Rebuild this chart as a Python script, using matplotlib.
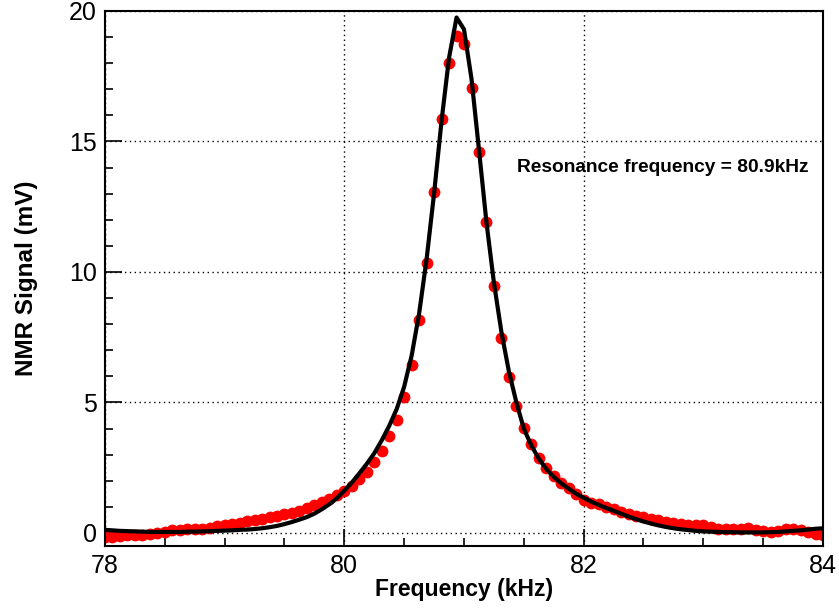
import matplotlib
matplotlib.use('Agg')
import matplotlib.pyplot as plt
from matplotlib.ticker import MultipleLocator

# sweep frequencies (kHz)
freq = [78.000, 78.063, 78.125, 78.188, 78.250, 78.313, 78.375, 78.438,
        78.500, 78.563, 78.625, 78.688, 78.750, 78.813, 78.875, 78.938,
        79.000, 79.063, 79.125, 79.188, 79.250, 79.313, 79.375, 79.438,
        79.500, 79.563, 79.625, 79.688, 79.750, 79.813, 79.875, 79.938,
        80.000, 80.063, 80.125, 80.188, 80.250, 80.313, 80.375, 80.438,
        80.500, 80.563, 80.625, 80.688, 80.750, 80.813, 80.875, 80.938,
        81.000, 81.063, 81.125, 81.188, 81.250, 81.313, 81.375, 81.438,
        81.500, 81.563, 81.625, 81.688, 81.750, 81.813, 81.875, 81.938,
        82.000, 82.063, 82.125, 82.188, 82.250, 82.313, 82.375, 82.438,
        82.500, 82.563, 82.625, 82.688, 82.750, 82.813, 82.875, 82.938,
        83.000, 83.063, 83.125, 83.188, 83.250, 83.313, 83.375, 83.438,
        83.500, 83.563, 83.625, 83.688, 83.750, 83.813, 83.875, 83.938,
        84.000]

# measured NMR signal (mV)
signal = [-0.17, -0.14, -0.11, -0.09, -0.08, -0.06, -0.04, -0.01,
          0.05, 0.10, 0.13, 0.14, 0.14, 0.16, 0.19, 0.25,
          0.31, 0.36, 0.40, 0.44, 0.48, 0.54, 0.60, 0.65,
          0.72, 0.78, 0.86, 0.94, 1.06, 1.19, 1.32, 1.46,
          1.62, 1.80, 2.05, 2.33, 2.72, 3.14, 3.70, 4.34,
          5.22, 6.45, 8.15, 10.35, 13.05, 15.85, 18.00, 19.05,
          18.75, 17.05, 14.60, 11.90, 9.45, 7.47, 5.98, 4.88,
          4.03, 3.41, 2.86, 2.48, 2.19, 1.92, 1.71, 1.48,
          1.28, 1.16, 1.10, 1.00, 0.90, 0.80, 0.72, 0.66,
          0.60, 0.54, 0.48, 0.43, 0.38, 0.34, 0.31, 0.30,
          0.29, 0.24, 0.17, 0.14, 0.14, 0.15, 0.18, 0.12,
          0.07, 0.05, 0.09, 0.17, 0.16, 0.10, 0.02, -0.04,
          -0.08]

# fitted curve (mV), same frequencies
fit = [0.12, 0.10, 0.08, 0.07, 0.06, 0.05, 0.04, 0.04,
       0.04, 0.04, 0.04, 0.05, 0.05, 0.06, 0.07, 0.08,
       0.09, 0.10, 0.12, 0.13, 0.15, 0.18, 0.22, 0.27,
       0.34, 0.42, 0.51, 0.61, 0.74, 0.91, 1.10, 1.33,
       1.62, 1.93, 2.28, 2.65, 3.05, 3.55, 4.10, 4.75,
       5.60, 6.80, 8.40, 10.50, 13.00, 15.80, 18.20, 19.75,
       19.30, 17.40, 14.70, 11.90, 9.60, 7.70, 6.20, 5.00,
       4.00, 3.35, 2.85, 2.45, 2.15, 1.90, 1.70, 1.50,
       1.35, 1.20, 1.08, 0.96, 0.85, 0.74, 0.63, 0.53,
       0.44, 0.36, 0.29, 0.23, 0.18, 0.14, 0.11, 0.08,
       0.06, 0.05, 0.04, 0.03, 0.03, 0.02, 0.02, 0.02,
       0.02, 0.03, 0.04, 0.06, 0.08, 0.10, 0.13, 0.16,
       0.18]

RESONANCE_TEXT = 'Resonance frequency = 80.9kHz'

plt.rcParams['font.family'] = ['Liberation Sans', 'DejaVu Sans']

fig = plt.figure(figsize=(8.39, 6.10), dpi=100)
ax = fig.add_axes([0.1251, 0.1049, 0.8558, 0.8771])

ax.plot(freq, signal, 'o', color='#ff0000', markersize=8.5,
        markeredgewidth=0, zorder=2)
ax.plot(freq, fit, '-', color='black', linewidth=3.0, zorder=3)

ax.set_xlim(78, 84)
ax.set_ylim(-0.5, 20)

ax.xaxis.set_major_locator(MultipleLocator(2))
ax.xaxis.set_minor_locator(MultipleLocator(0.5))
ax.yaxis.set_major_locator(MultipleLocator(5))
ax.yaxis.set_minor_locator(MultipleLocator(1))

ax.tick_params(which='both', direction='in', top=False, right=False,
               labelsize=18, width=1.2)
ax.tick_params(which='major', length=12, pad=6)
ax.tick_params(which='minor', length=6)

ax.grid(True, which='major', color='black', linestyle=(0, (1, 2.5)),
        linewidth=1.0)
ax.set_axisbelow(True)
for sp in ax.spines.values():
    sp.set_linewidth(1.5)

ax.set_xlabel('Frequency (kHz)', fontsize=16.5, fontweight='bold', labelpad=0)
ax.set_ylabel('NMR Signal (mV)', fontsize=17.5, fontweight='bold', labelpad=22)

ax.text(81.44, 14.0, RESONANCE_TEXT, fontsize=13.8, fontweight='bold',
        ha='left', va='center')

fig.savefig('out.png', dpi=100)
